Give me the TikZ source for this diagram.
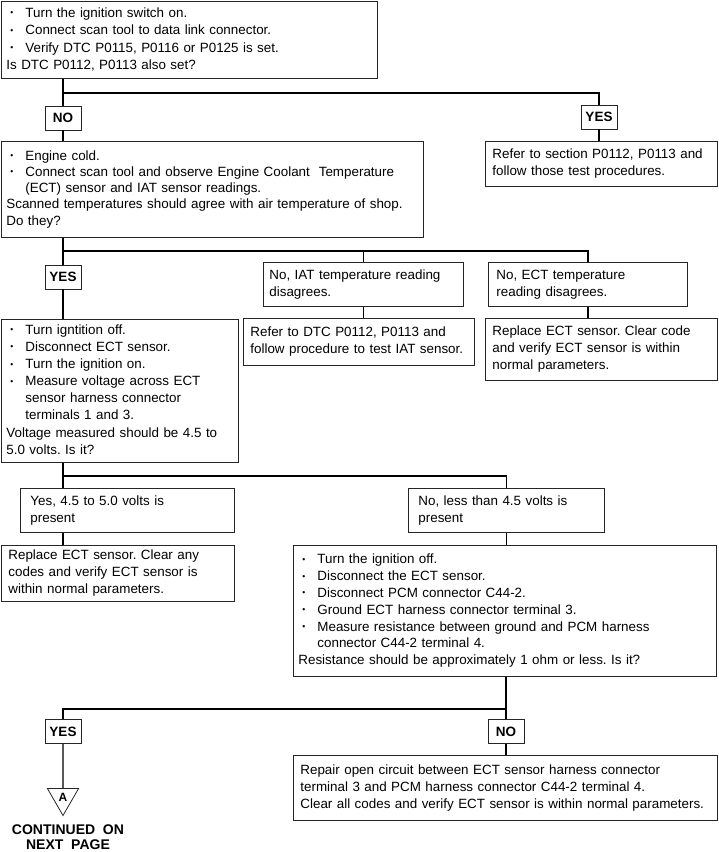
\documentclass[tikz,border=0pt]{standalone}
\usepackage{fontspec}
\setmainfont{Liberation Sans}
\usetikzlibrary{shapes.geometric}
\newcommand\bl{\makebox[19pt][l]{\hspace{4pt}\raisebox{1.6pt}{\fontsize{8.5}{8.5}\selectfont •}}}
\newcommand\ct{\hspace*{19pt}}
\newcommand\lns[1]{\begin{tabular}{@{}l@{}}#1\end{tabular}}
\frenchspacing
\begin{document}
\begin{tikzpicture}[x=1pt,y=-1pt,
  txt/.style={font=\fontsize{13.4}{17}\selectfont\frenchspacing},
  boxnode/.style={draw=black!85, line width=0.8pt, txt, align=left, anchor=north west, inner xsep=6pt, inner ysep=2pt},
  lab/.style={draw=black!85, line width=0.8pt, font=\fontsize{13.5}{16}\selectfont\bfseries, minimum width=36pt, minimum height=24pt, inner sep=0pt},
  conn/.style={line width=1.2pt}]
\useasboundingbox (0,0) rectangle (719,852);

\node[boxnode, font=\fontsize{13.4}{17.6}\selectfont, inner xsep=5pt, text width=366pt, minimum height=77pt] (b1) at (1,1) {\lns{%
\bl Turn the ignition switch on.\\
\bl Connect scan tool to data link connector.\\
\bl Verify DTC P0115, P0116 or P0125 is set.\\
Is DTC P0112, P0113 also set?}};

\node[lab] (no1) at (63,118) {NO};
\node[lab] (yes1) at (599,117) {YES};

\node[boxnode, inner xsep=7pt, text width=218pt, minimum height=45pt] (ref1) at (485,141) {\lns{%
Refer to section P0112, P0113 and\\
follow those test procedures.}};

\node[boxnode, font=\fontsize{13.4}{16.2}\selectfont, inner xsep=5pt, text width=412pt, minimum height=96pt] (b2) at (1,141) {\lns{%
\bl Engine cold.\\
\bl Connect scan tool and observe Engine Coolant\ \ Temperature\\
\ct(ECT) sensor and IAT sensor readings.\\
Scanned temperatures should agree with air temperature of shop.\\
Do they?}};

\node[lab] (yes2) at (63,277) {YES};

\node[boxnode, text width=188pt, minimum height=44pt] (iat) at (263,262) {\lns{%
No, IAT temperature reading\\
disagrees.}};

\node[boxnode, inner xsep=8pt, text width=183pt, minimum height=44pt] (ect) at (488,262) {\lns{%
No, ECT temperature\\
reading disagrees.}};

\node[boxnode, inner xsep=7pt, text width=217pt, minimum height=47pt] (refdtc) at (243,318) {\lns{%
Refer to DTC P0112, P0113 and\\
follow procedure to test IAT sensor.}};

\node[boxnode, inner xsep=7pt, text width=218pt, minimum height=62pt] (repl1) at (485,318) {\lns{%
Replace ECT sensor. Clear code\\
and verify ECT sensor is within\\
normal parameters.}};

\node[boxnode, font=\fontsize{13.4}{17.1}\selectfont, inner xsep=5pt, inner ysep=1pt, text width=227pt, minimum height=143pt] (b3) at (1,319) {\lns{%
\bl Turn igntition off.\\
\bl Disconnect ECT sensor.\\
\bl Turn the ignition on.\\
\bl Measure voltage across ECT\\
\ct sensor harness connector\\
\ct terminals 1 and 3.\\
Voltage measured should be 4.5 to\\
5.0 volts. Is it?}};

\node[boxnode, inner xsep=10pt, text width=194pt, minimum height=44pt] (yes45) at (20,488) {\lns{%
Yes, 4.5 to 5.0 volts is\\
present}};

\node[boxnode, inner xsep=10pt, text width=176pt, minimum height=44pt] (no45) at (408,488) {\lns{%
No, less than 4.5 volts is\\
present}};

\node[boxnode, inner xsep=7pt, text width=219pt, minimum height=56pt] (repl2) at (1,545) {\lns{%
Replace ECT sensor. Clear any\\
codes and verify ECT sensor is\\
within normal parameters.}};

\node[boxnode, font=\fontsize{13.4}{16.8}\selectfont, inner xsep=5pt, text width=413pt, minimum height=131pt] (b4) at (293,545) {\lns{%
\bl Turn the ignition off.\\
\bl Disconnect the ECT sensor.\\
\bl Disconnect PCM connector C44-2.\\
\bl Ground ECT harness connector terminal 3.\\
\bl Measure resistance between ground and PCM harness\\
\ct connector C44-2 terminal 4.\\
Resistance should be approximately 1 ohm or less. Is it?}};

\node[lab] (yes3) at (63,731.5) {YES};
\node[lab] (no3) at (506,731.5) {NO};

\node[boxnode, inner xsep=7pt, text width=410pt, minimum height=65pt] (rep) at (293,755) {\lns{%
Repair open circuit between ECT sensor harness connector\\
terminal 3 and PCM harness connector C44-2 terminal 4.\\
Clear all codes and verify ECT sensor is within normal parameters.}};

\node[draw=black!85, line width=0.8pt, regular polygon, regular polygon sides=3,
  shape border rotate=180, minimum size=36pt, inner sep=0pt,
  font=\fontsize{12}{12}\selectfont\bfseries] (tri) at (63,797.5) {A};

\node[font=\fontsize{14}{15.5}\selectfont\bfseries, align=center] (cont) at (68,837) {CONTINUED\ \ ON\\NEXT\ \ PAGE};

% connectors
\coordinate (j1) at (63,93);
\draw[conn] (b1.south -| no1.north) -- (no1.north);
\draw[conn] (j1) -| (yes1.north);
\draw[conn] (no1.south) -- (no1.south |- b2.north);
\draw[conn] (yes1.south) -- (yes1.south |- ref1.north);
\draw[conn] (b2.south -| yes2.north) -- (yes2.north);
\coordinate (j2) at (63,251);
\draw[conn] (j2) -- (j2 -| ect.north) -- (ect.north);
\draw[conn] (j2 -| iat.north) -- (iat.north);
\draw[conn] (iat.south) -- (iat.south |- refdtc.north);
\draw[conn] (ect.south) -- (ect.south |- repl1.north);
\draw[conn] (yes2.south) -- (yes2.south |- b3.north);
\coordinate (j3) at (63,476);
\draw[conn] (b3.south -| j3) -- (j3) -| (no45.north);
\draw[conn] (j3) -- (j3 |- yes45.north);
\draw[conn] (yes45.south -| j3) -- (repl2.north -| j3);
\draw[conn] (no45.south) -- (no45.south |- b4.north);
\coordinate (j4) at (63,709);
\draw[conn] (b4.south -| no3.north) -- (no3.north);
\draw[conn] (j4 -| no3.north) -- (j4) -- (yes3.north);
\draw[conn] (no3.south) -- (no3.south |- rep.north);
\draw[conn] (yes3.south) -- (tri.north);
\end{tikzpicture}
\end{document}
